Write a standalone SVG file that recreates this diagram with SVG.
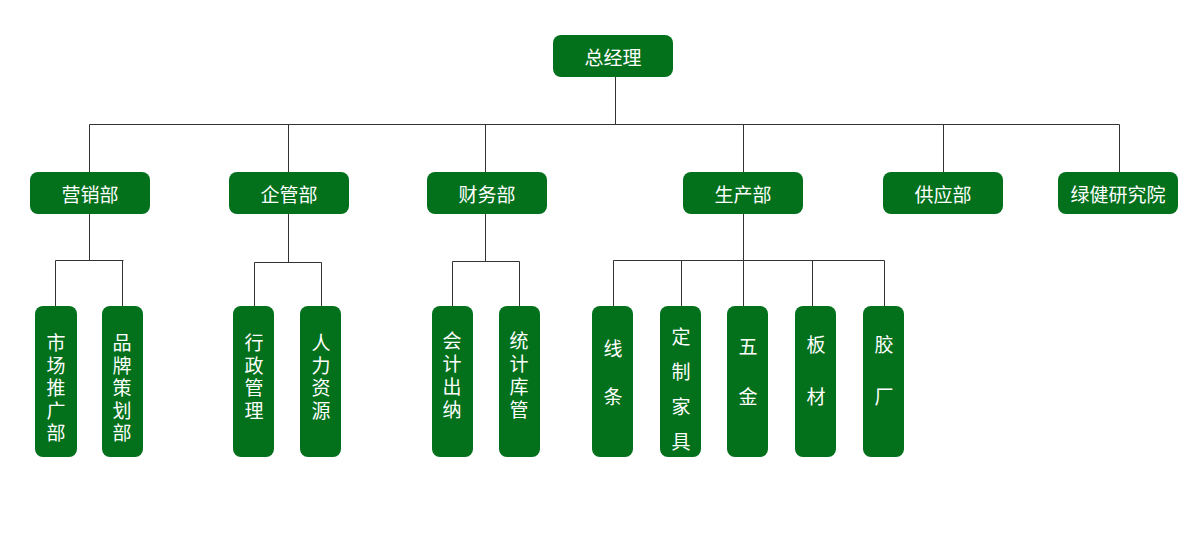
<svg xmlns="http://www.w3.org/2000/svg" width="1201" height="538" viewBox="0 0 1201 538">
<style>
.n{fill:#03701c;}
.t{fill:#fff;font-family:"Noto Sans CJK SC",sans-serif;font-size:19px;text-anchor:middle;dominant-baseline:central;}
.c{stroke:#333;stroke-width:1;fill:none;}
</style>
<rect width="1201" height="538" fill="#fff"/>
<g id="connectors" class="c">
<path d="M615.5 77V124.5M89.5 124.5H1119.5M89.5 124.5V172M288.5 124.5V172M485.5 124.5V172M743.5 124.5V172M943.5 124.5V172M1119.5 124.5V172"/>
<path d="M89.5 214V260.5M55.5 260.5H123.5M55.5 260.5V306M122.5 260.5V306"/>
<path d="M288.5 214V262.5M254.5 262.5H321.5M254.5 262.5V306M321.5 262.5V306"/>
<path d="M485.5 214V261.5M452.5 261.5H519.5M452.5 261.5V306M519.5 261.5V306"/>
<path d="M743.5 214V260.5M613.5 260.5H884.5M613.5 260.5V306M681.5 260.5V306M743.5 260.5V306M812.5 260.5V306M884.5 260.5V306"/>
</g>
<g id="zjl"><rect class="n" x="553" y="35" width="120" height="42" rx="8"/><text class="t" x="613" y="56">总经理</text></g>
<g id="yxb"><rect class="n" x="30" y="172" width="120" height="42" rx="8"/><text class="t" x="90" y="193">营销部</text></g>
<g id="qgb"><rect class="n" x="229" y="172" width="120" height="42" rx="8"/><text class="t" x="289" y="193">企管部</text></g>
<g id="cwb"><rect class="n" x="427" y="172" width="120" height="42" rx="8"/><text class="t" x="487" y="193">财务部</text></g>
<g id="scb"><rect class="n" x="683" y="172" width="120" height="42" rx="8"/><text class="t" x="743" y="193">生产部</text></g>
<g id="gyb"><rect class="n" x="883" y="172" width="120" height="42" rx="8"/><text class="t" x="943" y="193">供应部</text></g>
<g id="ljy"><rect class="n" x="1058" y="172" width="120" height="42" rx="8"/><text class="t" x="1118" y="193">绿健研究院</text></g>
<g id="sc"><rect class="n" x="35" y="306" width="42" height="151" rx="8"/><text class="t" x="56"><tspan x="56" y="341">市</tspan><tspan x="56" y="363.5">场</tspan><tspan x="56" y="386">推</tspan><tspan x="56" y="408.5">广</tspan><tspan x="56" y="431">部</tspan></text></g>
<g id="pp"><rect class="n" x="102" y="306" width="41" height="151" rx="8"/><text class="t"><tspan x="122" y="341">品</tspan><tspan x="122" y="363.5">牌</tspan><tspan x="122" y="386">策</tspan><tspan x="122" y="408.5">划</tspan><tspan x="122" y="431">部</tspan></text></g>
<g id="xz"><rect class="n" x="233" y="306" width="41" height="151" rx="8"/><text class="t"><tspan x="254" y="341">行</tspan><tspan x="254" y="363.5">政</tspan><tspan x="254" y="386">管</tspan><tspan x="254" y="408.5">理</tspan></text></g>
<g id="rl"><rect class="n" x="300" y="306" width="41" height="151" rx="8"/><text class="t"><tspan x="321" y="341">人</tspan><tspan x="321" y="363.5">力</tspan><tspan x="321" y="386">资</tspan><tspan x="321" y="408.5">源</tspan></text></g>
<g id="kj"><rect class="n" x="432" y="306" width="41" height="151" rx="8"/><text class="t"><tspan x="452" y="339">会</tspan><tspan x="452" y="362">计</tspan><tspan x="452" y="385">出</tspan><tspan x="452" y="408">纳</tspan></text></g>
<g id="tj"><rect class="n" x="499" y="306" width="41" height="151" rx="8"/><text class="t"><tspan x="519" y="339">统</tspan><tspan x="519" y="362">计</tspan><tspan x="519" y="385">库</tspan><tspan x="519" y="408">管</tspan></text></g>
<g id="xt"><rect class="n" x="592" y="306" width="41" height="151" rx="8"/><text class="t"><tspan x="613" y="347">线</tspan><tspan x="613" y="395">条</tspan></text></g>
<g id="dz"><rect class="n" x="660" y="306" width="41" height="151" rx="8"/><text class="t"><tspan x="681" y="335">定</tspan><tspan x="681" y="370">制</tspan><tspan x="681" y="405">家</tspan><tspan x="681" y="440">具</tspan></text></g>
<g id="wj"><rect class="n" x="727" y="306" width="41" height="151" rx="8"/><text class="t"><tspan x="748" y="345">五</tspan><tspan x="748" y="395">金</tspan></text></g>
<g id="bc"><rect class="n" x="795" y="306" width="41" height="151" rx="8"/><text class="t"><tspan x="816" y="343">板</tspan><tspan x="816" y="395">材</tspan></text></g>
<g id="jc"><rect class="n" x="863" y="306" width="41" height="151" rx="8"/><text class="t"><tspan x="884" y="343">胶</tspan><tspan x="884" y="395">厂</tspan></text></g>
</svg>
